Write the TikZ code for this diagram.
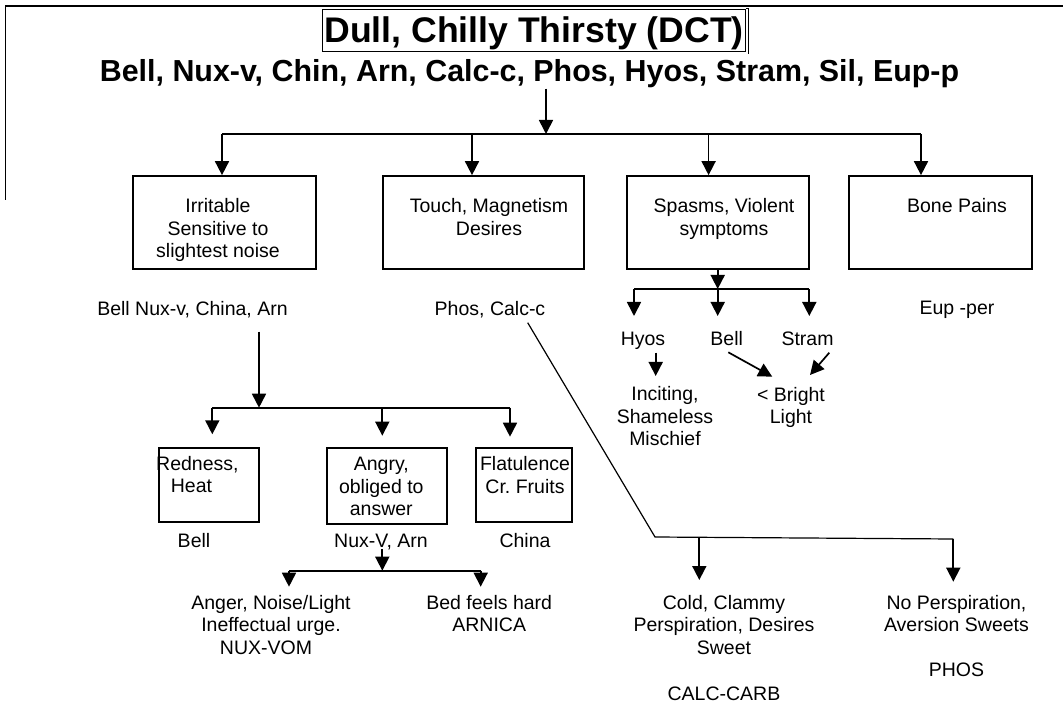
\documentclass[tikz,border=0pt]{standalone}
\usepackage{fontspec}
\setmainfont{Liberation Sans}
\frenchspacing
\usetikzlibrary{arrows.meta}
\tikzset{
  txt/.style={font=\fontsize{19.5}{22.4}\selectfont, inner sep=0pt, anchor=base, align=center},
  box/.style={draw, line width=1.7pt, inner sep=0pt},
  arr/.style={-{Triangle[length=14pt,width=14pt]}, line width=1.7pt},
  ln/.style={line width=1.7pt},
  thin ln/.style={line width=1.2pt}
}
\begin{document}
\begin{tikzpicture}[x=1pt,y=-1pt]
\useasboundingbox (0,0) rectangle (1063,708);
% frame
\draw[thin ln] (5.5,200) -- (5.5,6) -- (1063,6);
% title
\node[draw, line width=1pt, minimum width=422.6pt, minimum height=42.7pt, inner sep=0pt] (title) at (534,30.65) {};
\draw[line width=1pt] (title.north east) -- ++(3,0) -- ++(0,45);
\node[font=\bfseries\fontsize{35.6}{40}\selectfont, inner sep=0pt, anchor=base] (titletxt) at (534,43) {Dull, Chilly Thirsty (DCT)};
\node[font=\bfseries\fontsize{30.4}{34}\selectfont, inner sep=0pt, anchor=base] (sub) at (529.5,82) {Bell, Nux-v, Chin, Arn, Calc-c, Phos, Hyos, Stram, Sil, Eup-p};
% top row boxes
\node[box, minimum width=183pt, minimum height=93pt] (b1) at (224.5,222.5) {};
\node[box, minimum width=201pt, minimum height=93pt] (b2) at (483.5,222.5) {};
\node[box, minimum width=182pt, minimum height=93pt] (b3) at (718,222.5) {};
\node[box, minimum width=183pt, minimum height=93pt] (b4) at (940.5,222.5) {};
\node[txt] (t1) at (218,257.8) {Irritable\\Sensitive to\\slightest noise};
\node[txt] (t2) at (489,235.4) {Touch, Magnetism\\Desires};
\node[txt] (t3) at (724,235.4) {Spasms, Violent\\symptoms};
\node[txt] (t4) at (957,213) {Bone Pains};
% main bus
\coordinate (top) at (546,134);
\coordinate (j1) at (222,134);
\coordinate (j2) at (472,134);
\coordinate (j3) at (708.6,134);
\coordinate (j4) at (921,134);
\draw[arr] (sub.south -| top) -- (top);
\draw[ln] (j1) -- (j4);
\draw[arr] (j1) -- (j1 |- b1.north);
\draw[arr] (j2) -- (j2 |- b2.north);
\draw[arr] (j3) -- (j3 |- b3.north);
\draw[arr] (j4) -- (j4 |- b4.north);
% labels under top row
\node[txt] (l1) at (192.5,316) {Bell Nux-v, China, Arn};
\node[txt] (l2) at (490,316) {Phos, Calc-c};
\node[txt] (l4) at (957,314.5) {Eup -per};
% spasms subtree
\coordinate (s0) at (717.7,289);
\coordinate (s1) at (634,289);
\coordinate (s3) at (809.3,289);
\draw[arr] (b3.south -| s0) -- (s0);
\draw[ln] (s1) -- (s3);
\node[txt] (hyos) at (643,345.7) {Hyos};
\node[txt] (bell2) at (726.7,345.7) {Bell};
\node[txt] (stram) at (807.5,345.7) {Stram};
\draw[arr] (s1) -- (s1 |- 0,316);
\draw[arr] (s0) -- (s0 |- 0,316);
\draw[arr] (s3) -- (s3 |- 0,316);
\node[txt] (inc) at (665,445.8) {Inciting,\\Shameless\\Mischief};
\node[txt] (bright) at (791,423.4) {< Bright\\Light};
\coordinate (h1) at (655.7,352.7);
\coordinate (h2) at (655.7,376);
\draw[arr] (h1) -- (h2);
\coordinate (be1) at (728.3,352.3);
\coordinate (be2) at (772.3,376.7);
\draw[arr] (be1) -- (be2);
\coordinate (st1) at (829.3,352.7);
\coordinate (st2) at (810,375);
\draw[arr] (st1) -- (st2);
% phos / calc branch
\coordinate (d0) at (527.7,322.7);
\coordinate (d1) at (655,537);
\coordinate (d2) at (953.3,539);
\coordinate (c1) at (699.3,537.7);
\draw[thin ln] (d0) -- (d1) -- (d2);
\draw[arr] (c1) -- (699.3,580);
\draw[arr] (d2) -- (953.3,581.7);
\node[txt] (cold) at (724,654.1) {Cold, Clammy\\Perspiration, Desires\\Sweet};
\node[txt] (calc) at (724,700) {CALC-CARB};
\node[txt] (nop) at (956.5,631.7) {No Perspiration,\\Aversion Sweets};
\node[txt] (phos) at (956.5,676.7) {PHOS};
% left subtree
\coordinate (k0) at (259,407.7);
\coordinate (k1) at (212.3,407.7);
\coordinate (k2) at (382.3,407.7);
\coordinate (k3) at (510,407.7);
\draw[arr] (259,331.7) -- (k0);
\draw[ln] (k1) -- (k3);
\node[box, minimum width=100.3pt, minimum height=74.6pt] (r1) at (209.15,485) {};
\node[box, minimum width=120pt, minimum height=76.6pt] (r2) at (386.7,486) {};
\node[box, minimum width=96.3pt, minimum height=74.6pt] (r3) at (523.85,485) {};
\draw[arr] (k1) -- (k1 |- 0,434.3);
\draw[arr] (k2) -- (k2 |- 0,435.7);
\draw[arr] (k3) -- (k3 |- 0,436.7);
\node[txt, anchor=base west, align=left] (rt) at (156,492.7) {Redness,\\\hspace*{14.7pt}Heat};
\node[txt] (at) at (381.3,515.5) {Angry,\\obliged to\\answer};
\node[txt] (ft) at (525,493.1) {Flatulence\\Cr. Fruits};
\node[txt] (bl) at (194,547.3) {Bell};
\node[txt] (nl) at (381,547.3) {Nux-V, Arn};
\node[txt] (cl) at (525,547.3) {China};
\coordinate (m0) at (382.3,570.7);
\coordinate (m1) at (289,570.7);
\coordinate (m2) at (480.7,570.7);
\draw[arr] (382.3,549) -- (m0);
\draw[ln] (m1) -- (m2);
\draw[arr] (m1) -- (m1 |- 0,586.7);
\draw[arr] (m2) -- (m2 |- 0,586.7);
\node[txt] (anger) at (271,654.1) {Anger, Noise/Light\\Ineffectual urge.\\NUX-VOM\hspace*{10pt}};
\node[txt] (bed) at (489.2,631.7) {Bed feels hard\\ARNICA};
\end{tikzpicture}
\end{document}
